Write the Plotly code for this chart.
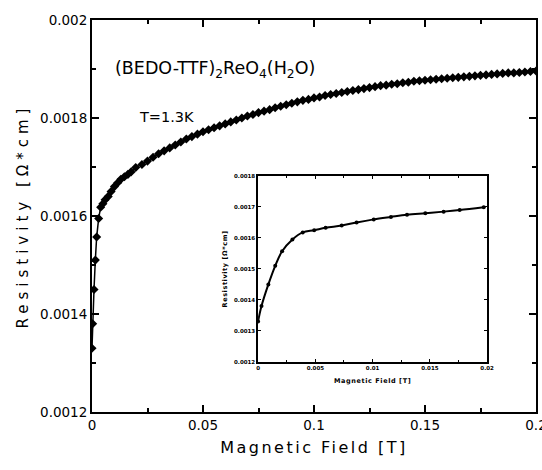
import plotly.graph_objects as go

# Low-field data (shared by main plot and inset)
low_field = [0.0, 0.0003, 0.0009, 0.0015, 0.0021, 0.0030, 0.0039, 0.0049, 0.0059, 0.0073,
             0.0086, 0.0101, 0.0116, 0.0130, 0.0146, 0.0162, 0.0176, 0.0197]
low_rho = [0.001330, 0.001380, 0.001450, 0.001510, 0.001557, 0.001595, 0.001618, 0.001625,
           0.001633, 0.001640, 0.001650, 0.001660, 0.001668, 0.001675, 0.001680, 0.001685,
           0.001690, 0.001699]

# Higher-field data (main plot)
high_field = [0.0225, 0.025, 0.0275, 0.03, 0.0325, 0.035, 0.0375, 0.04, 0.0425, 0.045, 0.0475,
              0.05, 0.0525, 0.055, 0.0575, 0.06, 0.0625, 0.065, 0.0675, 0.07, 0.0725, 0.075,
              0.0775, 0.08, 0.0825, 0.085, 0.0875, 0.09, 0.0925, 0.095, 0.0975, 0.1, 0.1025,
              0.105, 0.1075, 0.11, 0.1125, 0.115, 0.1175, 0.12, 0.1225, 0.125, 0.1275, 0.13,
              0.1325, 0.135, 0.1375, 0.14, 0.1425, 0.145, 0.1475, 0.15, 0.1525, 0.155, 0.1575,
              0.16, 0.1625, 0.165, 0.1675, 0.17, 0.1725, 0.175, 0.1775, 0.18, 0.1825, 0.185,
              0.1875, 0.19, 0.1925, 0.195, 0.1975, 0.2]
high_rho = [0.001705, 0.001712, 0.001720, 0.001727, 0.001733, 0.001739, 0.001745, 0.001751,
            0.001757, 0.001762, 0.001767, 0.001772, 0.001776, 0.001780, 0.001784, 0.001788,
            0.001792, 0.001796, 0.001800, 0.001804, 0.001807, 0.001811, 0.001814, 0.001817,
            0.001821, 0.001824, 0.001827, 0.001830, 0.001833, 0.001836, 0.001838, 0.001841,
            0.001843, 0.001846, 0.001848, 0.001850, 0.001852, 0.001854, 0.001856, 0.001858,
            0.001860, 0.001862, 0.001864, 0.001866, 0.001867, 0.001869, 0.001870, 0.001872,
            0.001873, 0.001875, 0.001876, 0.001877, 0.001878, 0.001879, 0.001880, 0.001881,
            0.001882, 0.001883, 0.001884, 0.001885, 0.001886, 0.001887, 0.001888, 0.001889,
            0.001890, 0.001891, 0.001892, 0.001892, 0.001893, 0.001894, 0.001895, 0.001896]

main_yticks = [0.0012, 0.0014, 0.0016, 0.0018, 0.002]
main_ytext = ["0.0012", "0.0014", "0.0016", "0.0018", "0.002"]
main_xticks = [0, 0.05, 0.1, 0.15, 0.2]
main_xtext = ["0", "0.05", "0.1", "0.15", "0.2"]
inset_yticks = [0.0012, 0.0013, 0.0014, 0.0015, 0.0016, 0.0017, 0.0018]
inset_ytext = ["0.0012", "0.0013", "0.0014", "0.0015", "0.0016", "0.0017", "0.0018"]
inset_xticks = [0, 0.005, 0.01, 0.015, 0.02]
inset_xtext = ["0", "0.005", "0.01", "0.015", "0.02"]

FONT = "DejaVu Sans, sans-serif"
BOLD_FONT = dict(family=FONT, size=5.5, weight="bold", color="black")

fig = go.Figure()
fig.add_trace(go.Scatter(
    x=low_field + high_field, y=low_rho + high_rho, mode="lines+markers",
    line=dict(color="black", width=1.5),
    marker=dict(symbol="diamond", size=7, color="black"),
    xaxis="x", yaxis="y", showlegend=False))
fig.add_trace(go.Scatter(
    x=low_field, y=low_rho, mode="lines+markers",
    line=dict(color="black", width=2, shape="spline"),
    marker=dict(symbol="circle", size=4, color="black"),
    xaxis="x2", yaxis="y2", showlegend=False))

axis_common = dict(showline=True, linecolor="black", mirror="allticks", ticks="inside",
                   showgrid=False, zeroline=False, tickcolor="black", automargin=False,
                   ticklabeloverflow="allow")

fig.update_layout(
    width=542, height=470,
    margin=dict(l=92, r=6, t=20, b=58),
    paper_bgcolor="white", plot_bgcolor="white",
    font=dict(family=FONT, color="black"),
    xaxis=dict(**axis_common, range=[0, 0.2], tickvals=main_xticks, ticktext=main_xtext,
               linewidth=2, ticklen=7, tickwidth=1.5, tickfont=dict(size=13.5),
               minor=dict(dtick=0.025, tick0=0, ticks="inside", ticklen=4, tickcolor="black"),
               title=dict(text="Magnetic Field [T]", font=dict(size=16), standoff=10),
               domain=[0, 1]),
    yaxis=dict(**axis_common, range=[0.0012, 0.002], tickvals=main_yticks, ticktext=main_ytext,
               linewidth=2, ticklen=7, tickwidth=1.5, tickfont=dict(size=13.5),
               minor=dict(dtick=0.0001, tick0=0.0012, ticks="inside", ticklen=4, tickcolor="black"),
               title=dict(text="Resistivity [Ω*cm]", font=dict(size=15), standoff=8),
               domain=[0, 1]),
    xaxis2=dict(**axis_common, range=[0, 0.02], tickvals=inset_xticks, ticktext=inset_xtext,
                linewidth=1.5, ticklen=3, tickfont=BOLD_FONT, anchor="y2",
                minor=dict(dtick=0.0025, tick0=0, ticks="inside", ticklen=2, tickcolor="black"),
                title=dict(text="Magnetic Field [T]", font=dict(family=FONT, size=6.5, weight="bold"),
                           standoff=8),
                domain=[0.374, 0.890]),
    yaxis2=dict(**axis_common, range=[0.0012, 0.0018], tickvals=inset_yticks, ticktext=inset_ytext,
                linewidth=1.5, ticklen=3, tickfont=BOLD_FONT, anchor="x2",
                title=dict(text="Resistivity [Ω*cm]", font=dict(family=FONT, size=6.5, weight="bold"),
                           standoff=6),
                domain=[0.128, 0.602]),
    annotations=[
        dict(text="(BEDO-TTF)<sub>2</sub>ReO<sub>4</sub>(H<sub>2</sub>O)", x=0.048, y=0.875,
             xref="paper", yref="paper", xanchor="left", yanchor="middle", showarrow=False,
             font=dict(size=17.5, family=FONT)),
        dict(text="T=1.3K", x=0.102, y=0.753, xref="paper", yref="paper", xanchor="left",
             yanchor="middle", showarrow=False, font=dict(size=14.5, family=FONT)),
    ],
)

post = """
var gd = document.getElementById('{plot_id}');
function spaceTitles(){
  gd.querySelectorAll('.xtitle').forEach(function(e){ e.style.letterSpacing = '2.5px'; });
  gd.querySelectorAll('.ytitle').forEach(function(e){ e.style.letterSpacing = '5px'; });
  gd.querySelectorAll('.x2title, .y2title').forEach(function(e){ e.style.letterSpacing = '0.6px'; });
}
gd.on('plotly_afterplot', spaceTitles);
document.documentElement.style.margin = '0';
document.body.style.margin = '0';
document.body.style.overflow = 'hidden';
spaceTitles();
"""

fig.write_html("out.html", post_script=post, config={"displayModeBar": False})
